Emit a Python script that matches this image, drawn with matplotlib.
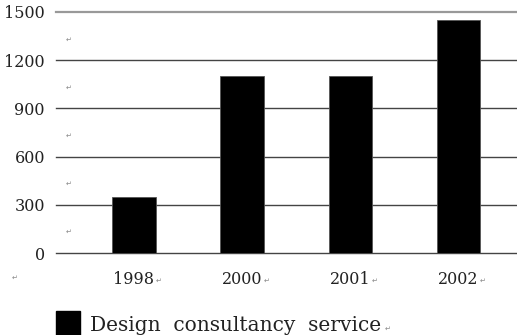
import matplotlib
matplotlib.use("Agg")
import matplotlib.pyplot as plt
from matplotlib.patches import Patch
import numpy as np

#%% DATOS:
years = ["1998", "2000", "2001", "2002"]
values = [350, 1100, 1100, 1450]
y_ticks = [0, 300, 600, 900, 1200, 1500]
serie = "Design  consultancy  service"

#%% FIGURA:
plt.rcParams["font.family"] = ["DejaVu Serif", "DejaVu Sans"]
fig = plt.figure(figsize=(5.17, 3.35), dpi=100)
ax = fig.add_axes([56/517, (335-253)/335, (517-56)/517, (253-12)/335])

x = np.arange(len(years))
ax.bar(x, values, width=0.40, color="black", edgecolor="#555555", linewidth=0.6, zorder=3)

# grilla horizontal
for v in y_ticks:
    c = "#999999" if v == y_ticks[-1] else "#444444"
    lw = 1.6 if v == y_ticks[-1] else 1.0
    ax.axhline(v, color=c, linewidth=lw, zorder=1, clip_on=False)

ax.set_xlim(-0.72, 3.54)
ax.set_ylim(0, 1500)
ax.set_yticks(y_ticks)
ax.set_yticklabels([str(v) for v in y_ticks], fontsize=11.5, color="#222222")
ax.set_xticks(x)
ax.set_xticklabels(years, fontsize=11.5, color="#222222")
ax.tick_params(axis="both", length=0)
ax.tick_params(axis="y", pad=8)
ax.tick_params(axis="x", pad=13)
for s in ax.spines.values():
    s.set_visible(False)

# marcas de parrafo (estilo Word)
marca = dict(fontsize=5, color="#888888", family="DejaVu Sans")
for i in range(len(y_ticks) - 1):
    ax.text(-0.6, (y_ticks[i] + y_ticks[i+1]) / 2 - 20, "\u21b5", ha="center", va="center", **marca)
for i in range(len(years)):
    ax.annotate("\u21b5", xy=(i, 0), xytext=(15.5, -20), textcoords="offset points",
                ha="left", va="center", annotation_clip=False, **marca)
fig.text(15/517, 1 - 278/335, "\u21b5", ha="center", va="center", **marca)

# leyenda
h = Patch(facecolor="black", edgecolor="black")
leg = fig.legend([h], [serie], loc="lower left", bbox_to_anchor=(48/517, -0.03),
                 frameon=False, fontsize=14.5, handlelength=1.2, handleheight=1.6,
                 handletextpad=0.5, borderaxespad=0)
for t in leg.get_texts():
    t.set_color("#222222")
fig.text(385/517, 1 - 329/335, "\u21b5", ha="left", va="center", **marca)

fig.savefig("out.png", dpi=100)
